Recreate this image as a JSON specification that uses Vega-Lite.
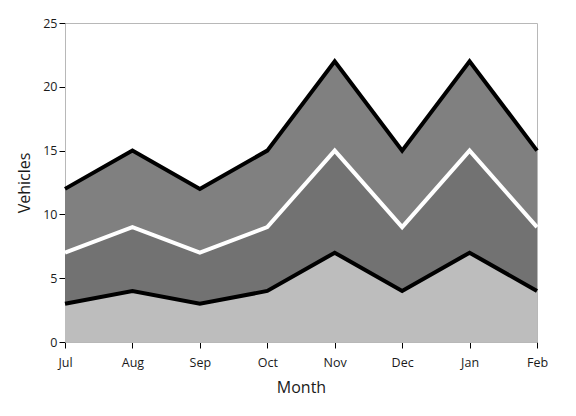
{
  "$schema": "https://vega.github.io/schema/vega-lite/v6.json",
  "autosize": "none",
  "width": 472,
  "height": 319,
  "padding": {"left": 65, "top": 23, "right": 39, "bottom": 74},
  "background": "white",
  "config": {
    "font": "Open Sans",
    "view": {"stroke": "#b8b8b8", "strokeWidth": 1}
  },
  "data": {
    "values": [
      {"month": "Jul", "series": "A", "ord": 1, "value": 3},
      {"month": "Aug", "series": "A", "ord": 1, "value": 4},
      {"month": "Sep", "series": "A", "ord": 1, "value": 3},
      {"month": "Oct", "series": "A", "ord": 1, "value": 4},
      {"month": "Nov", "series": "A", "ord": 1, "value": 7},
      {"month": "Dec", "series": "A", "ord": 1, "value": 4},
      {"month": "Jan", "series": "A", "ord": 1, "value": 7},
      {"month": "Feb", "series": "A", "ord": 1, "value": 4},
      {"month": "Jul", "series": "B", "ord": 2, "value": 4},
      {"month": "Aug", "series": "B", "ord": 2, "value": 5},
      {"month": "Sep", "series": "B", "ord": 2, "value": 4},
      {"month": "Oct", "series": "B", "ord": 2, "value": 5},
      {"month": "Nov", "series": "B", "ord": 2, "value": 8},
      {"month": "Dec", "series": "B", "ord": 2, "value": 5},
      {"month": "Jan", "series": "B", "ord": 2, "value": 8},
      {"month": "Feb", "series": "B", "ord": 2, "value": 5},
      {"month": "Jul", "series": "C", "ord": 3, "value": 5},
      {"month": "Aug", "series": "C", "ord": 3, "value": 6},
      {"month": "Sep", "series": "C", "ord": 3, "value": 5},
      {"month": "Oct", "series": "C", "ord": 3, "value": 6},
      {"month": "Nov", "series": "C", "ord": 3, "value": 7},
      {"month": "Dec", "series": "C", "ord": 3, "value": 6},
      {"month": "Jan", "series": "C", "ord": 3, "value": 7},
      {"month": "Feb", "series": "C", "ord": 3, "value": 6}
    ]
  },
  "encoding": {
    "x": {
      "field": "month",
      "type": "ordinal",
      "sort": ["Jul", "Aug", "Sep", "Oct", "Nov", "Dec", "Jan", "Feb"],
      "scale": {"type": "point", "padding": 0},
      "axis": {
        "title": "Month",
        "titleFont": "Open Sans",
        "titleFontSize": 16,
        "titleFontWeight": "normal",
        "titleColor": "#1a1a1a",
        "titlePadding": 11,
        "labelAngle": 0,
        "labelFontSize": 12.5,
        "labelColor": "#1a1a1a",
        "labelPadding": 8,
        "domainColor": "#b8b8b8",
        "tickColor": "#000000",
        "tickSize": 6,
        "grid": false
      }
    },
    "y": {
      "field": "value",
      "type": "quantitative",
      "stack": "zero",
      "scale": {"domain": [0, 25], "nice": false},
      "axis": {
        "title": "Vehicles",
        "titleFont": "Open Sans",
        "titleFontSize": 16,
        "titleFontWeight": "normal",
        "titleColor": "#1a1a1a",
        "titlePadding": 10,
        "values": [0, 5, 10, 15, 20, 25],
        "labelFontSize": 12.5,
        "labelColor": "#1a1a1a",
        "labelPadding": 2,
        "domainColor": "#b8b8b8",
        "tickColor": "#000000",
        "tickSize": 6,
        "grid": false
      }
    },
    "order": {"field": "ord", "type": "quantitative"}
  },
  "layer": [
    {
      "mark": {"type": "area", "opacity": 1},
      "encoding": {
        "fill": {
          "field": "series",
          "type": "nominal",
          "scale": {"domain": ["A", "B", "C"], "range": ["#bdbdbd", "#727272", "#808080"]},
          "legend": null
        }
      }
    },
    {
      "mark": {"type": "line", "strokeWidth": 4, "strokeJoin": "miter"},
      "encoding": {
        "stroke": {
          "field": "series",
          "type": "nominal",
          "scale": {"domain": ["A", "B", "C"], "range": ["#000000", "#ffffff", "#000000"]},
          "legend": null
        }
      }
    }
  ]
}
